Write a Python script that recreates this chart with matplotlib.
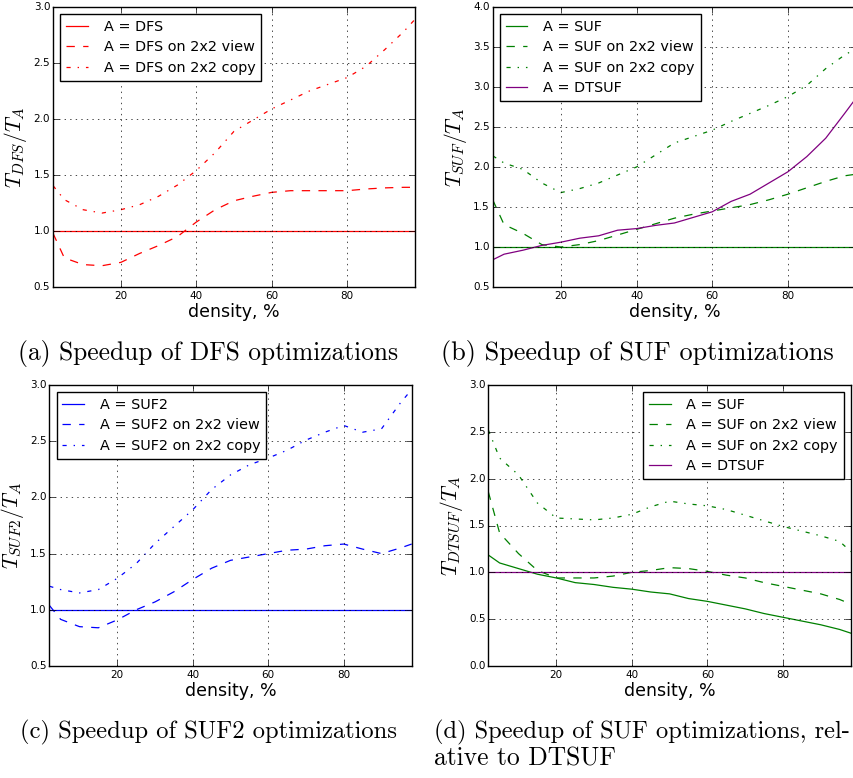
import matplotlib
matplotlib.use("Agg")
import matplotlib.pyplot as plt

plt.style.use("classic")
plt.rcParams["mathtext.fontset"] = "cm"
plt.rcParams["font.family"] = ["DejaVu Sans"]
plt.rcParams["figure.facecolor"] = "white"

density = [2, 5, 10, 15, 20, 25, 30, 35, 40, 45, 50, 55, 60, 65, 70, 75, 80, 85, 90, 95, 98]

# (a) DFS
dfs_base = [1.0] * len(density)
dfs_view = [0.98, 0.76, 0.70, 0.69, 0.72, 0.80, 0.87, 0.95, 1.08, 1.19, 1.27, 1.31, 1.345, 1.36, 1.36, 1.36,
            1.36, 1.375, 1.385, 1.39, 1.39]
dfs_copy = [1.405, 1.28, 1.19, 1.16, 1.19, 1.235, 1.31, 1.41, 1.54, 1.70, 1.89, 1.99, 2.09, 2.17, 2.25, 2.31,
            2.37, 2.47, 2.62, 2.78, 2.89]

# (b) SUF
suf_base = [1.0] * len(density)
suf_view = [1.59, 1.28, 1.17, 1.03, 1.00, 1.03, 1.08, 1.15, 1.22, 1.29, 1.36, 1.41, 1.45, 1.49, 1.53, 1.59,
            1.66, 1.74, 1.82, 1.89, 1.91]
suf_copy = [2.14, 2.05, 1.97, 1.80, 1.68, 1.73, 1.80, 1.90, 2.00, 2.15, 2.30, 2.38, 2.46, 2.57, 2.67, 2.77,
            2.88, 3.02, 3.23, 3.40, 3.48]
dtsuf = [0.84, 0.91, 0.96, 1.02, 1.06, 1.11, 1.14, 1.21, 1.23, 1.27, 1.30, 1.37, 1.44, 1.57, 1.66, 1.80,
         1.94, 2.13, 2.36, 2.67, 2.86]

# (c) SUF2
suf2_base = [1.0] * len(density)
suf2_view = [1.04, 0.915, 0.85, 0.84, 0.91, 1.00, 1.07, 1.16, 1.27, 1.37, 1.44, 1.47, 1.50, 1.53, 1.54, 1.57,
             1.585, 1.54, 1.50, 1.55, 1.585]
suf2_copy = [1.21, 1.18, 1.15, 1.18, 1.28, 1.41, 1.59, 1.74, 1.89, 2.07, 2.20, 2.29, 2.35, 2.42, 2.51, 2.58,
             2.64, 2.58, 2.61, 2.84, 2.96]

# (d) relative to DTSUF
rel_suf = [1.185, 1.10, 1.04, 0.98, 0.94, 0.89, 0.87, 0.84, 0.82, 0.79, 0.77, 0.72, 0.69, 0.65, 0.61, 0.56,
           0.52, 0.48, 0.44, 0.39, 0.35]
rel_view = [1.86, 1.42, 1.20, 1.02, 0.94, 0.94, 0.94, 0.96, 1.00, 1.02, 1.05, 1.04, 1.01, 0.97, 0.94, 0.89,
            0.85, 0.81, 0.77, 0.71, 0.66]
rel_copy = [2.52, 2.22, 2.04, 1.74, 1.58, 1.57, 1.56, 1.58, 1.62, 1.70, 1.76, 1.73, 1.71, 1.67, 1.61, 1.55,
            1.49, 1.44, 1.39, 1.33, 1.22]
rel_dtsuf = [1.0] * len(density)

captions = ["(a) Speedup of DFS optimizations",
            "(b) Speedup of SUF optimizations",
            "(c) Speedup of SUF2 optimizations",
            "(d) Speedup of SUF optimizations, rel-",
            "ative to DTSUF"]

W, H = 854, 778
fig = plt.figure(figsize=(W / 100, H / 100), dpi=100)


def add_ax(l, t, r, b):
    return fig.add_axes([l / W, 1 - b / H, (r - l) / W, (b - t) / H])


def style(ax, ylim, yticks, ylabel):
    ax.set_xlim(2, 98)
    ax.set_ylim(*ylim)
    ax.set_xticks([20, 40, 60, 80])
    ax.set_yticks(yticks)
    ax.set_yticklabels(["%.1f" % v for v in yticks])
    ax.tick_params(labelsize=7.5, direction="in", length=4)
    ax.tick_params(axis="y", pad=2)
    ax.tick_params(axis="x", pad=3)
    ax.grid(True, color="black", linestyle=":", linewidth=0.5)
    ax.set_xlabel("density, %", fontsize=12.5, labelpad=1)
    ax.set_ylabel(ylabel, fontsize=15.5, labelpad=3)


def legend(ax, loc):
    leg = ax.legend(loc=loc, fontsize=10.4, fancybox=False, handlelength=1.5, handletextpad=1.1,
                    borderpad=0.4, labelspacing=0.45, borderaxespad=0.5, numpoints=1)
    leg.get_frame().set_linewidth(1.0)


lw = 0.9

ax = add_ax(53, 7, 415, 287)
ax.plot(density, dfs_base, "-", color="red", lw=lw, label="A = DFS")
ax.plot(density, dfs_view, "--", color="red", lw=lw, label="A = DFS on 2x2 view")
ax.plot(density, dfs_copy, "-.", color="red", lw=lw, label="A = DFS on 2x2 copy")
style(ax, (0.5, 3.0), [0.5, 1.0, 1.5, 2.0, 2.5, 3.0], r"$T_{DFS}/T_A$")
legend(ax, "upper left")

ax = add_ax(492.7, 7, 856, 287)
ax.plot(density, suf_base, "-", color="green", lw=lw, label="A = SUF")
ax.plot(density, suf_view, "--", color="green", lw=lw, label="A = SUF on 2x2 view")
ax.plot(density, suf_copy, "-.", color="green", lw=lw, label="A = SUF on 2x2 copy")
ax.plot(density, dtsuf, "-", color="purple", lw=lw, label="A = DTSUF")
style(ax, (0.5, 4.0), [0.5, 1.0, 1.5, 2.0, 2.5, 3.0, 3.5, 4.0], r"$T_{SUF}/T_A$")
legend(ax, "upper left")

ax = add_ax(49.3, 385, 411.7, 666)
ax.plot(density, suf2_base, "-", color="blue", lw=lw, label="A = SUF2")
ax.plot(density, suf2_view, "--", color="blue", lw=lw, label="A = SUF2 on 2x2 view")
ax.plot(density, suf2_copy, "-.", color="blue", lw=lw, label="A = SUF2 on 2x2 copy")
style(ax, (0.5, 3.0), [0.5, 1.0, 1.5, 2.0, 2.5, 3.0], r"$T_{SUF2}/T_A$")
legend(ax, "upper left")

ax = add_ax(488.3, 385, 851, 666)
ax.plot(density, rel_suf, "-", color="green", lw=lw, label="A = SUF")
ax.plot(density, rel_view, "--", color="green", lw=lw, label="A = SUF on 2x2 view")
ax.plot(density, rel_copy, "-.", color="green", lw=lw, label="A = SUF on 2x2 copy")
ax.plot(density, rel_dtsuf, "-", color="purple", lw=lw, label="A = DTSUF")
style(ax, (0.0, 3.0), [0.0, 0.5, 1.0, 1.5, 2.0, 2.5, 3.0], r"$T_{DTSUF}/T_A$")
legend(ax, "upper right")

cap = dict(family="cmr10", va="baseline", ha="left")
fig.text(18 / W, 1 - 360 / H, captions[0], fontsize=18.3, **cap)
fig.text(441 / W, 1 - 360 / H, captions[1], fontsize=18.9, **cap)
fig.text(20 / W, 1 - 738 / H, captions[2], fontsize=17.7, **cap)
fig.text(434 / W, 1 - 738 / H, captions[3], fontsize=17.6, **cap)
fig.text(434 / W, 1 - 765 / H, captions[4], fontsize=18.4, **cap)

fig.savefig("out.png", dpi=100, facecolor="white")
